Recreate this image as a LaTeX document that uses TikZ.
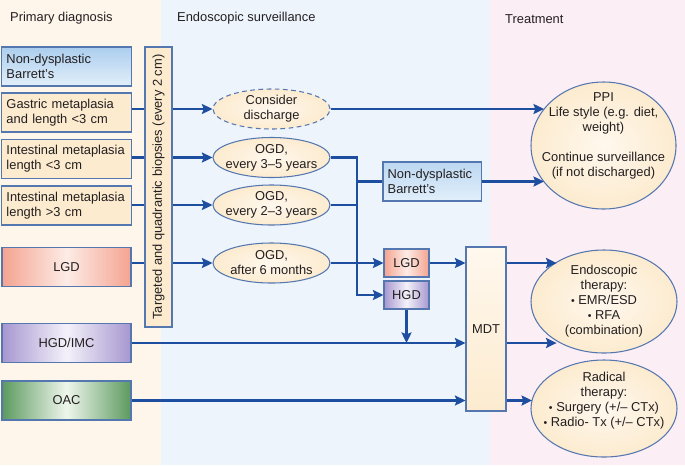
\documentclass[tikz,border=0pt]{standalone}
\usepackage{fontspec}
\usepackage{graphicx}
\setmainfont{Liberation Sans}
\usetikzlibrary{shapes.geometric,arrows.meta}
\definecolor{flow}{HTML}{1D4E9F}
\definecolor{edge}{HTML}{5577B0}
\definecolor{txt}{HTML}{231F20}
\definecolor{leftbg}{HTML}{FEF6EB}
\definecolor{midbg}{HTML}{EDF4FC}
\definecolor{rightbg}{HTML}{FCEEF5}
\definecolor{cream}{HTML}{FCEBCF}
\definecolor{creamlight}{HTML}{FFF8EE}
\definecolor{ndbdark}{HTML}{ABCEEE}
\definecolor{ndblight}{HTML}{E2EFFA}
\definecolor{lgdedge}{HTML}{F4A390}
\definecolor{lgdmid}{HTML}{FDECE6}
\definecolor{hgdedge}{HTML}{A697D0}
\definecolor{hgdmid}{HTML}{F4F1FA}
\definecolor{oacedge}{HTML}{5C9A5F}
\definecolor{oacmid}{HTML}{EEF6EC}
\begin{document}
\begin{tikzpicture}[x=0.03cm, y=-0.03cm,
        font=\fontsize{11}{12.8}\selectfont, text=txt,
        line/.style={draw=flow, line width=2.3pt},
        flowarrow/.style={line, -{Stealth[length=9pt,width=8.5pt,inset=1.5pt]}},
        diagbox/.style={draw=edge, line width=0.9pt, minimum height=1.17cm, inner xsep=4pt, inner ysep=0pt},
        leftbox/.style={diagbox, text width=3.6cm, align=left},
        colbox/.style={diagbox, minimum width=3.87cm},
        oval/.style={ellipse, draw=edge, line width=0.9pt, inner color=creamlight, outer color=cream, inner sep=0pt},
        header/.style={anchor=west, inner sep=0pt}]
    \useasboundingbox (0,0) rectangle (685,465);
    \fill[leftbg] (0,0) rectangle (161,465);
    \fill[midbg] (161,0) rectangle (490,465);
    \fill[rightbg] (490,0) rectangle (685,465);

    \node[header] (hdiag) at (10,18) {Primary diagnosis};
    \node[header] (hsurv) at (177,18) {Endoscopic surveillance};
    \node[header] (htreat) at (505,19) {Treatment};

    % primary diagnosis
    \node[leftbox, top color=ndbdark, bottom color=ndblight] (ndb) at (66.5,66.5) {Non-dysplastic\\Barrett's};
    \node[leftbox, fill=cream] (gm) at (66.5,112.5) {Gastric metaplasia\\and length <3 cm};
    \node[leftbox, fill=cream] (im1) at (66.5,159) {Intestinal metaplasia\\length <3 cm};
    \node[leftbox, fill=cream] (im2) at (66.5,205.5) {Intestinal metaplasia\\length >3 cm};
    \node[colbox, left color=lgdedge, right color=lgdedge, middle color=lgdmid] (lgd) at (66.5,267) {LGD};
    \node[colbox, left color=hgdedge, right color=hgdedge, middle color=hgdmid] (hgdimc) at (66.5,343) {HGD/IMC};
    \node[colbox, left color=oacedge, right color=oacedge, middle color=oacmid] (oac) at (66.5,400.5) {OAC};

    \node[diagbox, fill=cream, minimum width=0.81cm, minimum height=8.4cm, inner sep=0pt] (bar) at (158.5,187)
        {\rotatebox{90}{Targeted and quadrantic biopsies (every 2 cm)}};

    % surveillance
    \node[oval, dashed, dash pattern=on 4pt off 3pt, minimum width=3.51cm, minimum height=1.2cm,
        label={[align=center]center:{Consider\\discharge}}] (cd) at (271.5,109) {};
    \node[oval, minimum width=3.51cm, minimum height=1.2cm,
        label={[align=center]center:{OGD,\\every 3--5 years}}] (ogd1) at (271.5,157.5) {};
    \node[oval, minimum width=3.51cm, minimum height=1.2cm,
        label={[align=center]center:{OGD,\\every 2--3 years}}] (ogd2) at (271.5,205) {};
    \node[oval, minimum width=3.51cm, minimum height=1.2cm,
        label={[align=center]center:{OGD,\\after 6 months}}] (ogd3) at (271.5,263) {};

    \node[diagbox, text width=2.66cm, align=left, top color=ndbdark!80, bottom color=ndblight] (ndb2) at (432,181.5) {Non-dysplastic\\Barrett's};
    \node[diagbox, minimum width=1.35cm, minimum height=0.84cm, left color=lgdedge, right color=lgdedge, middle color=lgdmid] (slgd) at (406.5,263) {LGD};
    \node[diagbox, minimum width=1.35cm, minimum height=0.84cm, left color=hgdedge, right color=hgdedge, middle color=hgdmid] (shgd) at (406.5,295) {HGD};
    \node[diagbox, minimum width=1.2cm, minimum height=4.92cm, top color=creamlight, bottom color=cream] (mdt) at (486,329) {MDT};

    % treatment
    \node[oval, minimum width=4.35cm, minimum height=3.81cm,
        label={[align=center, yshift=0.3cm]center:{PPI\\Life style (e.g. diet,\\weight)\\[12.8pt]Continue surveillance\\(if not discharged)}}] (ppi) at (603.5,145.5) {};
    \node[oval, minimum width=4.38cm, minimum height=3.09cm,
        label={[align=center]center:{Endoscopic\\therapy:\\{\small\textbullet} EMR/ESD\\{\small\textbullet} RFA\\(combination)}}] (endo) at (604,301.5) {};
    \node[oval, minimum width=4.38cm, minimum height=2.91cm,
        label={[align=center, yshift=0.24cm]center:{Radical\\therapy:\\{\small\textbullet} Surgery (+/-- CTx)\\{\small\textbullet} Radio- Tx (+/-- CTx)}}] (rad) at (604,408.5) {};

    % connectors
    \foreach \src/\dst in {gm/cd, im1/ogd1, im2/ogd2, lgd/ogd3} {
        \draw[line] (\src.east |- \dst) -- (bar.west |- \dst);
        \draw[flowarrow] (bar.east |- \dst) -- (\dst.west);
    }
    \coordinate (tr) at (357,0);
    \draw[flowarrow] (ogd1.east) -- (ogd1 -| tr) |- (shgd.west);
    \draw[line] (ogd2.east) -- (ogd2 -| tr);
    \draw[line] (ndb2 -| tr) -- (ndb2.west);
    \draw[flowarrow] (ogd3.east) -- (slgd.west);
    \draw[flowarrow] (slgd.east) -- (slgd.east -| mdt.west);
    \draw[flowarrow] (shgd.south) -- (shgd.south |- hgdimc);
    \draw[flowarrow] (hgdimc.east) -- (hgdimc.east -| mdt.west);
    \draw[flowarrow] (oac.east) -- (oac.east -| mdt.west);

    \draw[flowarrow] (cd.east) -- (cd.east -| ppi.148);
    \draw[flowarrow] (ndb2.east) -- (ndb2.east -| ppi.212);
    \draw[flowarrow] (mdt.east |- slgd) -- (slgd -| endo.140);
    \draw[flowarrow] (mdt.east |- hgdimc) -- (hgdimc -| endo.220);
    \draw[flowarrow] (mdt.east |- oac) -- (oac -| rad.172);
\end{tikzpicture}
\end{document}
